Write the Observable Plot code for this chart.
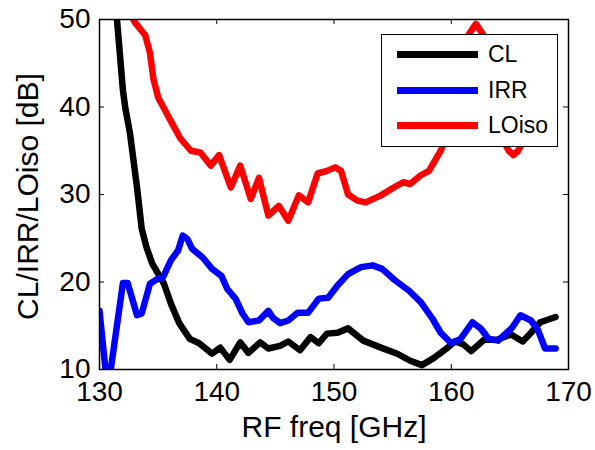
<!DOCTYPE html>
<html><head><meta charset="utf-8">
<script src="https://cdn.jsdelivr.net/npm/d3@7"></script>
<script src="https://cdn.jsdelivr.net/npm/@observablehq/plot@0.6"></script>
<style>
body{margin:0;background:#fff;font-family:"Liberation Sans",Arial,sans-serif;}
#wrap{position:relative;width:595px;height:450px;}
#legend{position:absolute;left:381px;top:34px;width:177px;height:113px;border:1.5px solid #000;background:#fff;box-sizing:border-box;}
.row{position:absolute;left:0;height:0;}
.sw{position:absolute;left:15px;width:81px;height:7px;top:-3.5px;}
.lab{position:absolute;left:106px;font-size:23px;line-height:24px;top:-12px;white-space:nowrap;color:#000;}
</style></head>
<body><div id="wrap"></div>
<script>
const xTicks = [130, 140, 150, 160, 170];
const yTicks = [10, 20, 30, 40, 50];
const seriesNames = ["CL", "IRR", "LOiso"];
const seriesColors = ["#000000", "#0000ff", "#ff0000"];

const clFreq = [131.3,132.0,132.2,132.6,132.9,133.2,133.6,134.0,134.5,135.5,136.1,136.8,137.7,138.5,139.6,140.3,141.1,142.0,142.7,143.7,144.4,145.4,146.1,147.1,148.0,148.7,149.4,150.3,151.2,152.5,154.0,155.4,156.5,157.5,158.5,159.7,160.3,161.0,161.7,162.8,163.9,165.1,166.1,166.8,167.6,168.9];
const clValue = [53,41.9,39.9,37.0,33.9,30.8,26.1,24.0,22.1,19.8,17.5,15.3,13.5,13.0,11.8,12.5,11.1,13.1,11.9,13.1,12.4,12.7,13.2,12.2,13.7,13.0,14.1,14.2,14.7,13.3,12.5,11.8,11.0,10.5,11.3,12.5,13.2,12.9,12.1,13.4,13.4,14.0,13.2,14.2,15.4,16.0];

const irrFreq = [130.0,130.7,132.0,132.4,133.2,133.6,134.3,135.0,135.4,136.1,136.7,137.1,137.5,137.9,138.8,139.6,140.4,140.9,141.6,142.2,142.7,143.6,144.4,144.8,145.4,146.1,146.9,147.8,148.7,149.5,150.3,151.2,152.3,153.3,154.1,155.2,156.4,157.4,158.4,159.1,160.0,160.8,161.8,162.5,163.2,164.0,165.2,165.9,166.8,167.4,168.0,168.9];
const irrValue = [16.7,7.5,19.9,19.9,16.2,16.4,19.8,20.4,20.5,22.5,23.6,25.3,24.9,23.8,22.8,21.5,20.7,19.2,18.1,16.4,15.4,15.6,16.7,15.9,15.3,15.6,16.5,16.5,18.1,18.2,19.6,20.9,21.7,21.9,21.5,20.2,19.0,17.7,15.8,14.2,13.0,13.5,15.4,14.7,13.5,13.3,14.8,16.2,15.6,14.5,12.4,12.4];

const loFreq = [132.5,133.0,133.9,134.3,134.6,135.0,135.6,136.2,136.9,137.8,138.6,139.5,140.2,141.2,142.0,142.9,143.6,144.4,145.3,146.1,147.0,147.8,148.6,149.4,150.1,150.6,151.2,152.0,152.7,154.0,155.1,155.9,156.5,157.4,158.1,159.1,160.0,161.0,161.5,162.1,162.7,163.2,164.0,164.5,164.9,165.3,165.7,166.1,167.0,168.0,168.6];
const loValue = [51,49.7,48.2,46.2,43.2,41.1,39.6,38.1,36.4,35.0,34.8,33.3,34.5,30.8,33.3,29.5,31.9,27.6,28.7,27.0,29.9,29.1,32.4,32.7,33.1,32.7,30.0,29.3,29.1,29.9,30.8,31.4,31.2,32.2,32.7,35.0,38.0,44.0,48.3,49.5,48.3,45.0,39.0,36.0,35.0,34.5,35.0,36.0,38.5,40.0,40.5];

const toRows = (fs, vs) => fs.map((f, i) => ({f, v: vs[i]}));
const series = [toRows(clFreq, clValue), toRows(irrFreq, irrValue), toRows(loFreq, loValue)];

const W = 595, H = 450, mL = 99, mR = 27, mT = 19, mB = 81;
const plotH = H - mT - mB, plotW = W - mL - mR;
const lineOpts = {x: "f", y: "v", strokeWidth: 6.5, clip: true, strokeLinejoin: "round", strokeLinecap: "round"};

const chart = Plot.plot({
  width: W, height: H,
  marginLeft: mL, marginRight: mR, marginTop: mT, marginBottom: mB,
  style: {fontFamily: "'Liberation Sans', Arial, sans-serif", background: "white", color: "black"},
  x: {domain: [130, 170], ticks: xTicks},
  y: {domain: [10, 50], ticks: yTicks},
  marks: [
    ...series.map((d, i) => Plot.line(d, {...lineOpts, stroke: seriesColors[i]})),
    Plot.frame({stroke: "black", strokeWidth: 1.5}),
    Plot.tickX(xTicks, {x: d => d, insetTop: plotH - 5, stroke: "black"}),
    Plot.tickX(xTicks, {x: d => d, insetBottom: plotH - 5, stroke: "black"}),
    Plot.tickY(yTicks, {y: d => d, insetRight: plotW - 5, stroke: "black"}),
    Plot.tickY(yTicks, {y: d => d, insetLeft: plotW - 5, stroke: "black"}),
    Plot.axisX(xTicks, {tickSize: 0, tickPadding: 12, fontSize: 28, label: null, fill: "black"}),
    Plot.axisY(yTicks, {tickSize: 0, tickPadding: 9, fontSize: 28, label: null, fill: "black"}),
    Plot.text(["RF freq [GHz]"], {frameAnchor: "bottom", textAnchor: "middle", dy: 67, fontSize: 30, fill: "black"}),
    Plot.text(["CL/IRR/LOiso [dB]"], {frameAnchor: "left", textAnchor: "middle", dx: -71, dy: 2, rotate: -90, fontSize: 30, fill: "black"})
  ]
});

const wrap = document.getElementById("wrap");
wrap.appendChild(chart);
const legend = document.createElement("div");
legend.id = "legend";
const rowY = [19, 55, 90];
seriesNames.forEach((name, i) => {
  const row = document.createElement("div");
  row.className = "row";
  row.style.top = rowY[i] + "px";
  row.innerHTML = `<div class="sw" style="background:${seriesColors[i]}"></div><div class="lab">${name}</div>`;
  legend.appendChild(row);
});
wrap.appendChild(legend);
</script>
</body></html>
